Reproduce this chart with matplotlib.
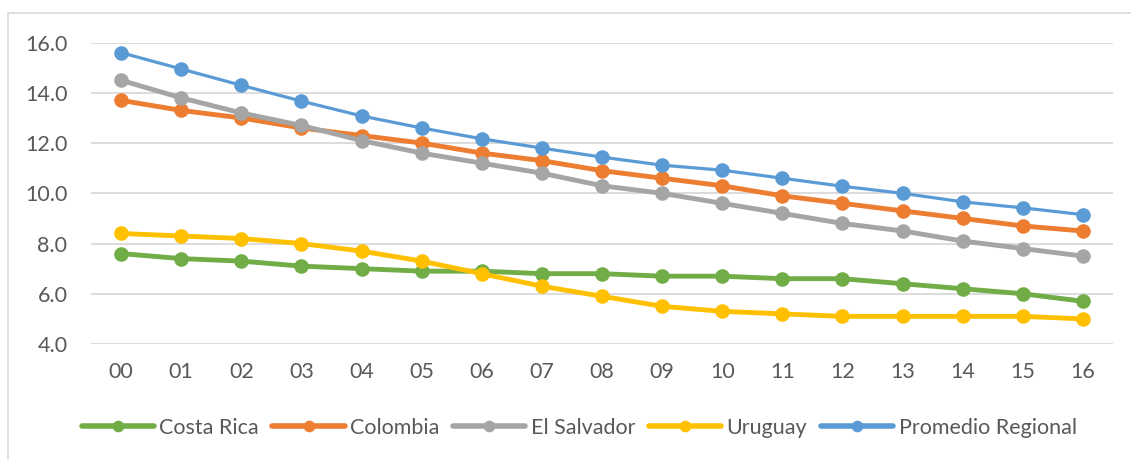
import matplotlib
matplotlib.use("Agg")
import matplotlib.pyplot as plt
from matplotlib.patches import Rectangle

years = ["00", "01", "02", "03", "04", "05", "06", "07", "08",
         "09", "10", "11", "12", "13", "14", "15", "16"]

costa_rica = [7.6, 7.4, 7.3, 7.1, 7.0, 6.9, 6.9, 6.8, 6.8,
              6.7, 6.7, 6.6, 6.6, 6.4, 6.2, 6.0, 5.7]
colombia = [13.7, 13.3, 13.0, 12.6, 12.3, 12.0, 11.6, 11.3, 10.9,
            10.6, 10.3, 9.9, 9.6, 9.3, 9.0, 8.7, 8.5]
el_salvador = [14.5, 13.8, 13.2, 12.7, 12.1, 11.6, 11.2, 10.8, 10.3,
               10.0, 9.6, 9.2, 8.8, 8.5, 8.1, 7.8, 7.5]
uruguay = [8.4, 8.3, 8.2, 8.0, 7.7, 7.3, 6.8, 6.3, 5.9,
           5.5, 5.3, 5.2, 5.1, 5.1, 5.1, 5.1, 5.0]
promedio = [15.6, 14.95, 14.3, 13.67, 13.08, 12.6, 12.17, 11.8, 11.44,
            11.12, 10.92, 10.6, 10.28, 10.0, 9.66, 9.42, 9.15]

series = [
    ("Costa Rica", costa_rica, "#70AD47", 3.5),
    ("Colombia", colombia, "#ED7D31", 3.5),
    ("El Salvador", el_salvador, "#A5A5A5", 3.5),
    ("Uruguay", uruguay, "#FFC000", 3.5),
    ("Promedio Regional", promedio, "#5B9BD5", 2.3),
]

plt.rcParams["font.family"] = ["Lato", "DejaVu Sans"]
text_color = "#595959"
grid_color = "#D9D9D9"

W, H = 1131, 459
fig = plt.figure(figsize=(W / 100, H / 100), dpi=100)
ax = fig.add_axes([91 / W, 1 - 344 / H, (1113 - 91) / W, (344 - 42.6) / H])

# chart area border
fig.patches.append(Rectangle((8 / W, -0.1), 1.2, 1 - 13 / H + 0.1,
                             transform=fig.transFigure, fill=False,
                             edgecolor=grid_color, linewidth=1.2))

x = list(range(len(years)))
for name, vals, color, lw in series:
    ax.plot(x, vals, color=color, linewidth=lw, marker="o",
            markersize=10.5, markeredgewidth=0, label=name,
            solid_capstyle="round", solid_joinstyle="round")

ax.set_xlim(-0.5, len(years) - 0.5)
ax.set_ylim(4, 16)
ax.set_yticks([4, 6, 8, 10, 12, 14, 16])
ax.set_yticklabels([f"{v:.1f}" for v in [4, 6, 8, 10, 12, 14, 16]])
ax.set_xticks(x)
ax.set_xticklabels(years)

ax.grid(axis="y", color=grid_color, linewidth=1.3)
ax.set_axisbelow(True)
for s in ax.spines.values():
    s.set_visible(False)
ax.tick_params(axis="both", length=0, colors=text_color, labelsize=15.5)
ax.tick_params(axis="x", pad=13)
ax.tick_params(axis="y", pad=17)

leg = fig.legend(loc="center", bbox_to_anchor=(0.512, 1 - 428 / H), ncol=5,
                 frameon=False, fontsize=15.5, handlelength=3.35,
                 columnspacing=0.63, handletextpad=0.26, markerscale=0.8)
for t in leg.get_texts():
    t.set_color(text_color)
for line in leg.get_lines():
    line.set_linewidth(4)

fig.savefig("out.png", dpi=100)
